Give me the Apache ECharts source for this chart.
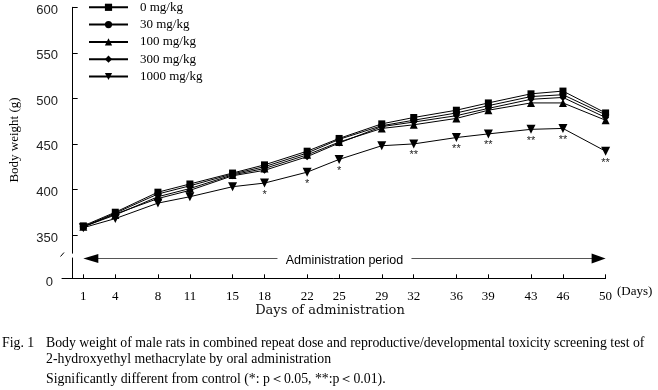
<!DOCTYPE html>
<html><head><meta charset="utf-8">
<script src="https://cdn.jsdelivr.net/npm/echarts@6/dist/echarts.min.js"></script>
<style>html,body{margin:0;padding:0;background:#fff}#c{width:658px;height:390px}</style>
</head><body><div id="c"></div>
<script>
const days = [1,4,8,11,15,18,22,25,29,32,36,39,43,46,50];
const dose0    = [360,375,397,406,418,427,442,456,472,479,487,495,505,508,484];
const dose30   = [359,374,395,404,417,425,440,455,470,476,484,492,502,504,482];
const dose100  = [359,372,392,401,416,423,438,452,467,471,478,487,495,495,476];
const dose300  = [359,373,390,399,415,421,436,451,469,474,481,489,499,501,479];
const dose1000 = [358,368,385,392,403,407,419,433,448,450,457,461,466,467,442];
const sig1000  = ['','','','','','*','*','*','','**','**','**','**','**','**'];
const yTicks = [350,400,450,500,550,600];
const seriesNames = ['0 mg/kg','30 mg/kg','100 mg/kg','300 mg/kg','1000 mg/kg'];
const seriesData = [dose0, dose30, dose100, dose300, dose1000];
const symbols = ['rect','circle','triangle','diamond','triangle'];
const symbolSizes = [7,7,8,7,9];
const symbolRotates = [0,0,0,0,180];

const chart = echarts.init(document.getElementById('c'), null, {renderer:'canvas'});
const serif = 'Liberation Serif';
const sans = 'Liberation Sans';

const series = seriesNames.map((name, k) => ({
  type: 'line', name: name, xAxisIndex: 0, yAxisIndex: 0,
  data: days.map((d, i) => [d, seriesData[k][i]]),
  symbol: symbols[k], symbolSize: symbolSizes[k], symbolRotate: symbolRotates[k],
  showAllSymbol: true, clip: false, z: 10 - k,
  lineStyle: {color: '#000', width: 1},
  itemStyle: {color: '#000', opacity: 1},
  color: '#000',
  emphasis: {disabled: true},
  label: k === 4 ? {
    show: true, position: 'bottom', distance: 1.5,
    formatter: p => sig1000[p.dataIndex],
    fontSize: 11, fontFamily: sans, color: '#222'
  } : {show: false}
}));

chart.setOption({
  animation: false,
  backgroundColor: '#fff',
  grid: [
    {left: 62, right: 52.4, top: 7.3, height: 245.9},
    {left: 62, right: 52.4, top: 258, bottom: 111.7}
  ],
  xAxis: [
    {type: 'value', gridIndex: 0, min: -1, max: 50, show: false},
    {type: 'value', gridIndex: 1, min: -1, max: 50,
     axisLine: {show: true, lineStyle: {color: '#000', width: 1}},
     axisTick: {show: true, inside: true, length: 4, customValues: days, lineStyle: {color: '#000'}},
     axisLabel: {show: true, customValues: days, margin: 12, fontFamily: serif, fontSize: 13, color: '#000'},
     splitLine: {show: false}}
  ],
  yAxis: [
    {type: 'value', gridIndex: 0, min: 330, max: 600,
     axisLine: {show: true, lineStyle: {color: '#000', width: 1}},
     axisTick: {show: true, inside: true, length: 5, customValues: yTicks, lineStyle: {color: '#000'}},
     axisLabel: {show: true, customValues: yTicks, margin: 4, fontFamily: sans, fontSize: 13, color: '#222', verticalAlign: 'top', lineHeight: 6},
     splitLine: {show: false}},
    {type: 'value', gridIndex: 1, min: 0, max: 1,
     axisLine: {show: true, lineStyle: {color: '#000', width: 1}},
     axisTick: {show: false},
     axisLabel: {show: true, customValues: [0], margin: 9, fontFamily: sans, fontSize: 13, color: '#222', verticalAlign: 'top', lineHeight: 9},
     splitLine: {show: false}}
  ],
  legend: {
    data: seriesNames, orient: 'vertical', left: 88, top: 0.8, padding: 0,
    itemWidth: 39, itemHeight: 9, itemGap: 4.3,
    selectedMode: false,
    textStyle: {fontFamily: serif, fontSize: 13, lineHeight: 13, color: '#000', padding: [0,0,0,7]}
  },
  series: series
});

// annotations positioned through the axes
const p1 = chart.convertToPixel({xAxisIndex: 1, yAxisIndex: 1}, [1, 0]);
const p50 = chart.convertToPixel({xAxisIndex: 1, yAxisIndex: 1}, [50, 0]);
const pm = chart.convertToPixel({xAxisIndex: 1, yAxisIndex: 1}, [25.5, 0]);
const ay = 258.5;
const textHalf = 59;
const gap = 8;
const axisX = 62;
const axisY = p1[1];
const capFont = 13.8;

chart.setOption({
  graphic: [
    // administration period arrow
    {type: 'line', shape: {x1: p1[0] + 12, y1: ay, x2: pm[0] - textHalf - gap, y2: ay}, style: {stroke: '#555', lineWidth: 1.2}},
    {type: 'line', shape: {x1: pm[0] + textHalf + gap, y1: ay, x2: p50[0] - 12, y2: ay}, style: {stroke: '#555', lineWidth: 1.2}},
    {type: 'polygon', shape: {points: [[p1[0], ay], [p1[0] + 15, ay - 4.5], [p1[0] + 15, ay + 4.5]]}, style: {fill: '#000'}},
    {type: 'polygon', shape: {points: [[p50[0], ay], [p50[0] - 14, ay - 5], [p50[0] - 14, ay + 5]]}, style: {fill: '#000'}},
    {type: 'text', x: pm[0], y: ay + 2.5, style: {text: 'Administration period', fontFamily: sans, fontSize: 12.5, fill: '#000', align: 'center', verticalAlign: 'middle'}},
    // y-axis break mark
    {type: 'line', shape: {x1: axisX - 1.5, y1: 256.5, x2: axisX + 2, y2: 252.5}, style: {stroke: '#000', lineWidth: 1}},
    // small gap in x axis line
    {type: 'rect', shape: {x: 73.5, y: axisY - 1, width: 8, height: 2}, style: {fill: '#fff'}},
    // axis names
    {type: 'text', x: 617, y: 292, style: {text: '(Days)', fontFamily: serif, fontSize: 13, fill: '#000', align: 'left', verticalAlign: 'middle'}},
    {type: 'text', x: 330, y: 311, style: {text: 'Days of administration', fontFamily: 'DejaVu Serif', fontSize: 13, fill: '#111', align: 'center', verticalAlign: 'middle'}},
    {type: 'text', x: 15, y: 140, rotation: Math.PI / 2, style: {text: 'Body weight (g)', fontFamily: serif, fontSize: 13, fill: '#000', align: 'center', verticalAlign: 'middle'}},
    // caption
    {type: 'text', x: 2, y: 343, style: {text: 'Fig. 1', fontFamily: serif, fontSize: capFont, fill: '#000', align: 'left', verticalAlign: 'middle'}},
    {type: 'text', x: 46, y: 343, style: {text: 'Body weight of male rats in combined repeat dose and reproductive/developmental toxicity screening test of', fontFamily: serif, fontSize: capFont, fill: '#000', align: 'left', verticalAlign: 'middle'}},
    {type: 'text', x: 46, y: 359, style: {text: '2-hydroxyethyl methacrylate by oral administration', fontFamily: serif, fontSize: capFont, fill: '#000', align: 'left', verticalAlign: 'middle'}},
    {type: 'text', x: 46, y: 379, style: {text: 'Significantly different from control (*: p\uFF1C0.05, **:p\uFF1C0.01).', fontFamily: serif, fontSize: capFont, fill: '#000', align: 'left', verticalAlign: 'middle'}}
  ]
});
</script></body></html>
